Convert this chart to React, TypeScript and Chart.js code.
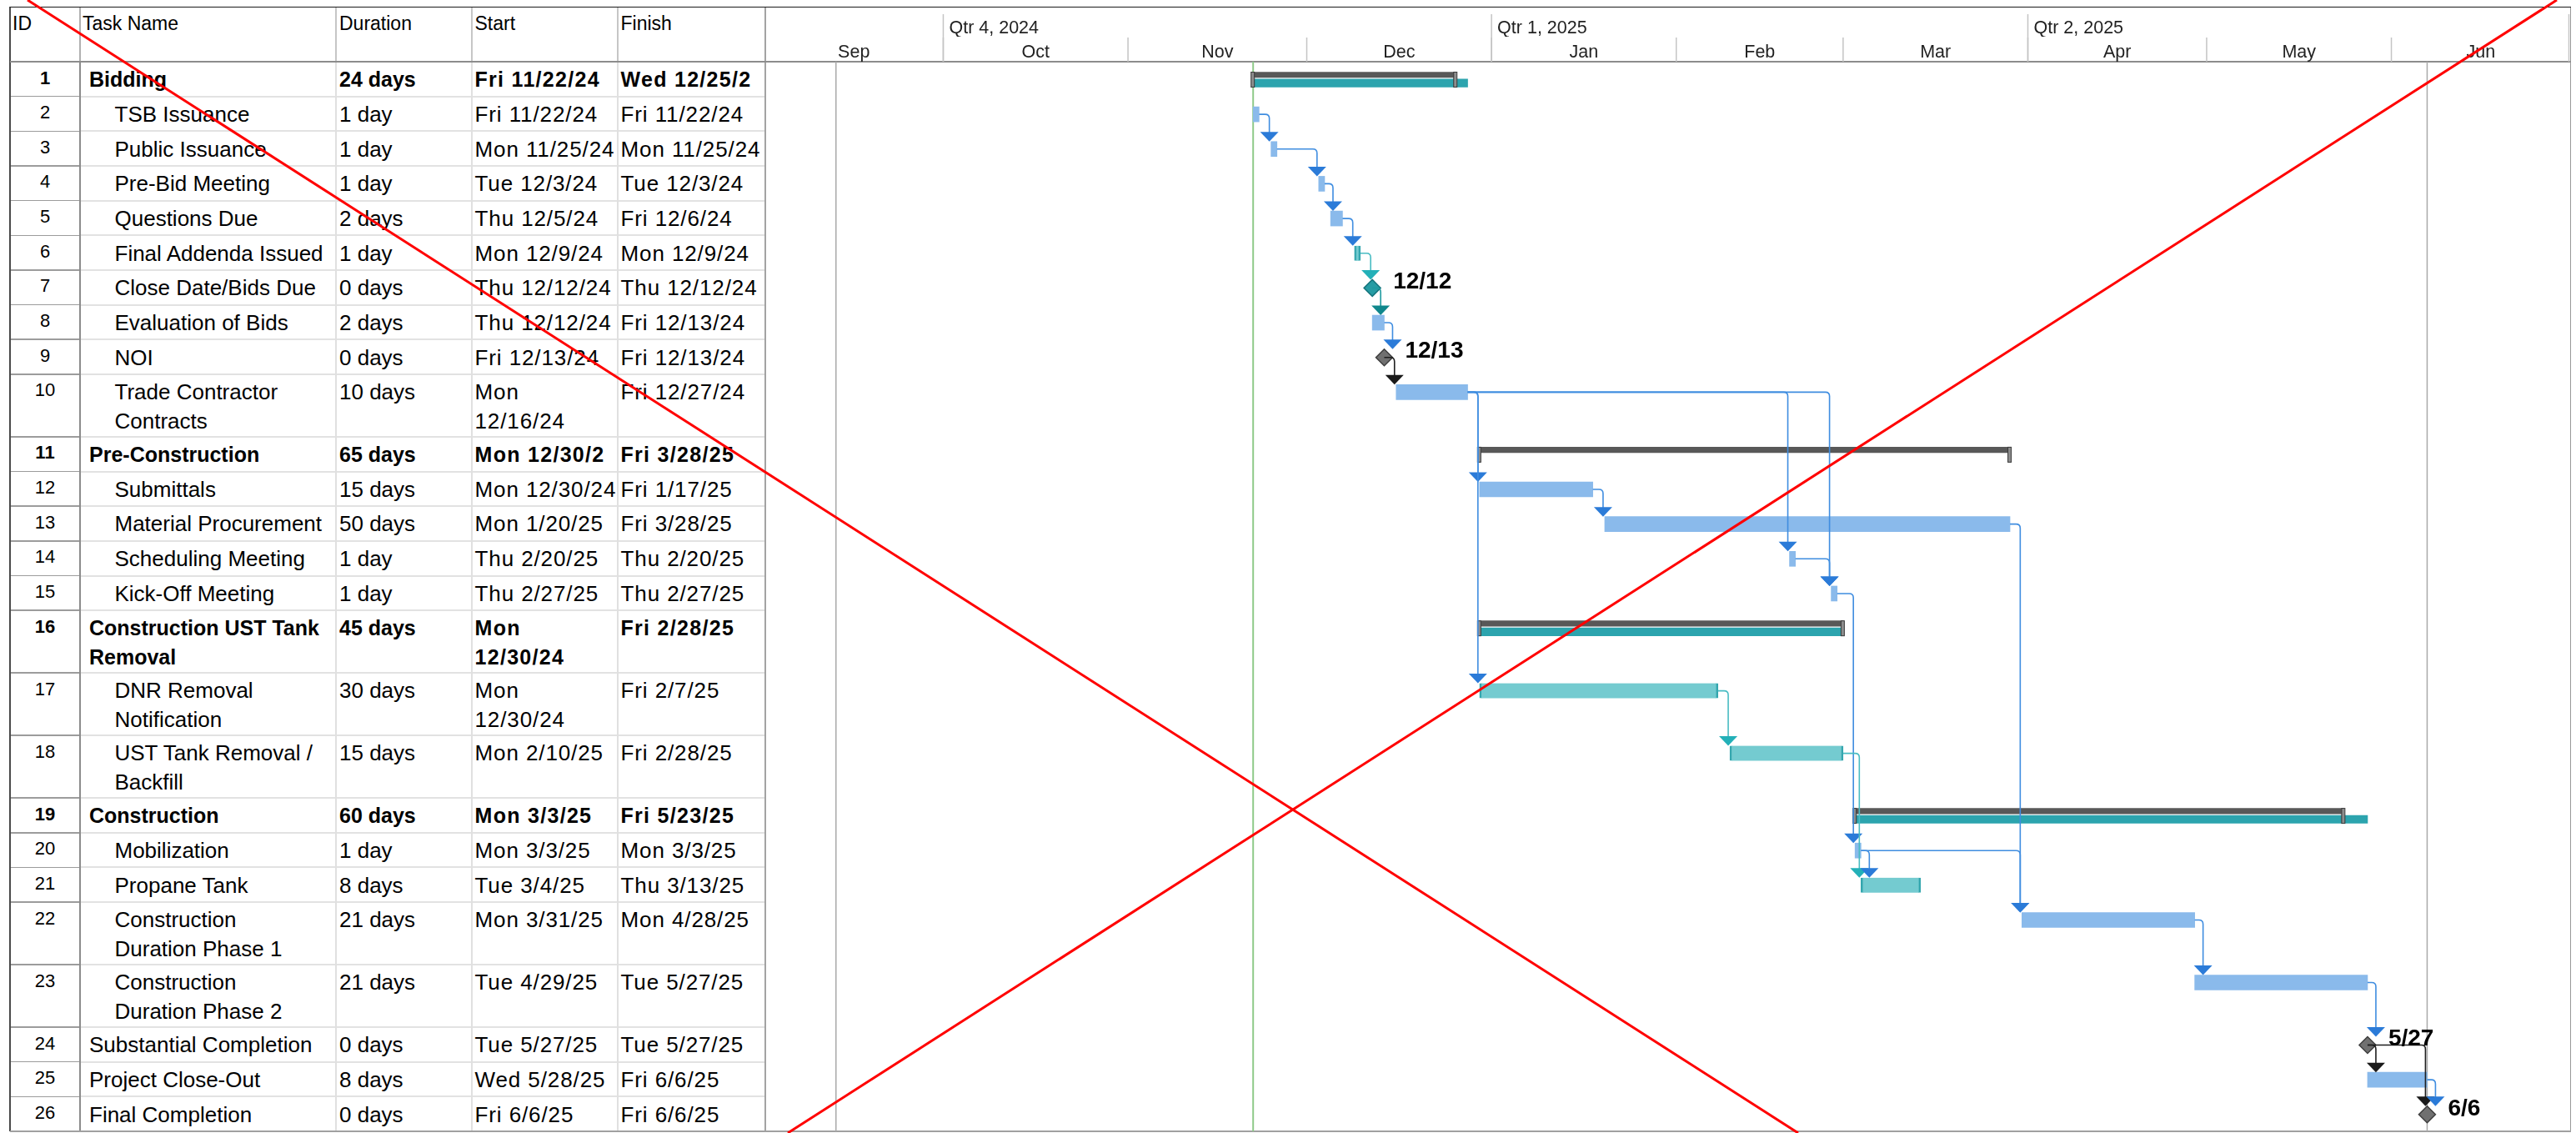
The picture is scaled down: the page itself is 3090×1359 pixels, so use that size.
import React, { useEffect, useRef } from 'react';
import { Chart, registerables } from 'chart.js';

Chart.register(...registerables);

// ---------------- data ----------------
const TASK_IDS = [1, 2, 3, 4, 5, 6, 7, 8, 9, 10, 11, 12, 13, 14, 15, 16, 17, 18, 19, 20, 21, 22, 23, 24, 25, 26];
const TASK_NAMES = [
  'Bidding', 'TSB Issuance', 'Public Issuance', 'Pre-Bid Meeting', 'Questions Due', 'Final Addenda Issued',
  'Close Date/Bids Due', 'Evaluation of Bids', 'NOI', 'Trade Contractor\nContracts', 'Pre-Construction',
  'Submittals', 'Material Procurement', 'Scheduling Meeting', 'Kick-Off Meeting', 'Construction UST Tank\nRemoval',
  'DNR Removal\nNotification', 'UST Tank Removal /\nBackfill', 'Construction', 'Mobilization', 'Propane Tank',
  'Construction\nDuration Phase 1', 'Construction\nDuration Phase 2', 'Substantial Completion', 'Project Close-Out',
  'Final Completion',
];
const OUTLINE_LEVEL = [1, 2, 2, 2, 2, 2, 2, 2, 2, 2, 1, 2, 2, 2, 2, 1, 2, 2, 1, 2, 2, 2, 2, 1, 1, 1];
const DURATIONS = [
  '24 days', '1 day', '1 day', '1 day', '2 days', '1 day', '0 days', '2 days', '0 days', '10 days', '65 days',
  '15 days', '50 days', '1 day', '1 day', '45 days', '30 days', '15 days', '60 days', '1 day', '8 days', '21 days',
  '21 days', '0 days', '8 days', '0 days',
];
const START_TEXT = [
  'Fri 11/22/24', 'Fri 11/22/24', 'Mon 11/25/24', 'Tue 12/3/24', 'Thu 12/5/24', 'Mon 12/9/24', 'Thu 12/12/24',
  'Thu 12/12/24', 'Fri 12/13/24', 'Mon\n12/16/24', 'Mon 12/30/2', 'Mon 12/30/24', 'Mon 1/20/25', 'Thu 2/20/25',
  'Thu 2/27/25', 'Mon\n12/30/24', 'Mon\n12/30/24', 'Mon 2/10/25', 'Mon 3/3/25', 'Mon 3/3/25', 'Tue 3/4/25',
  'Mon 3/31/25', 'Tue 4/29/25', 'Tue 5/27/25', 'Wed 5/28/25', 'Fri 6/6/25',
];
const FINISH_TEXT = [
  'Wed 12/25/2', 'Fri 11/22/24', 'Mon 11/25/24', 'Tue 12/3/24', 'Fri 12/6/24', 'Mon 12/9/24', 'Thu 12/12/24',
  'Fri 12/13/24', 'Fri 12/13/24', 'Fri 12/27/24', 'Fri 3/28/25', 'Fri 1/17/25', 'Fri 3/28/25', 'Thu 2/20/25',
  'Thu 2/27/25', 'Fri 2/28/25', 'Fri 2/7/25', 'Fri 2/28/25', 'Fri 5/23/25', 'Mon 3/3/25', 'Thu 3/13/25',
  'Mon 4/28/25', 'Tue 5/27/25', 'Tue 5/27/25', 'Fri 6/6/25', 'Fri 6/6/25',
];
// task kind: summary / task / critical / milestone
const TASK_TYPE = [
  'summary', 'task', 'task', 'task', 'task', 'critical', 'milestone', 'task', 'milestone', 'task', 'summary',
  'task', 'task', 'task', 'task', 'summary', 'critical', 'critical', 'summary', 'task', 'critical', 'task', 'task',
  'milestone', 'task', 'milestone',
];
// timeline values: days counted from Sep 1, 2024 (bar runs from start of first day to end of last day)
const START_DAY = [82, 82, 85, 93, 95, 99, 102, 102, 104, 106, 120, 120, 141, 172, 179, 120, 120, 162, 183, 183, 184, 211, 240, 269, 269, 279];
const END_DAY = [116, 83, 86, 94, 97, 100, 102, 104, 104, 118, 209, 139, 209, 173, 180, 181, 160, 181, 265, 184, 194, 240, 269, 269, 279, 279];
const ROLLUP_END: (number | null)[] = [118, null, null, null, null, null, null, null, null, null, null, null, null, null, null, 181, null, null, 269, null, null, null, null, null, null, null];
const MILESTONE_LABELS = ['12/12', '12/13', '5/27', '6/6'];
const LINKS: [number, number][] = [
  [2, 3], [3, 4], [4, 5], [5, 6], [6, 7], [7, 8], [8, 9], [9, 10], [10, 12], [10, 17], [10, 14], [10, 15],
  [14, 15], [12, 13], [13, 22], [15, 20], [17, 18], [18, 21], [20, 21], [20, 22], [22, 23], [23, 24], [24, 25],
  [24, 26], [25, 26],
];
const MONTHS = ['Sep', 'Oct', 'Nov', 'Dec', 'Jan', 'Feb', 'Mar', 'Apr', 'May', 'Jun'];
const MONTH_START = [0, 30, 61, 91, 122, 153, 181, 212, 242, 273, 303];
const QUARTERS = ['Qtr 4, 2024', 'Qtr 1, 2025', 'Qtr 2, 2025'];
const QUARTER_START = [30, 122, 212];
const STATUS_DAY = 82;
const GRAY_LINE_DAYS = [12, 279];
const HEADERS = ['ID', 'Task Name', 'Duration', 'Start', 'Finish'];

// ---------------- layout helpers ----------------
const FONT = '"Liberation Sans", Arial, sans-serif';
const lineCount = (s: string) => s.split('\n').length;
const ROW_UNITS = TASK_NAMES.map((n, i) =>
  Math.max(lineCount(n), lineCount(START_TEXT[i]), lineCount(FINISH_TEXT[i])) > 1 ? 1.8 : 1
);
const ROW_TOP: number[] = [];
let accUnits = 0;
ROW_UNITS.forEach((u) => { ROW_TOP.push(accUnits); accUnits += u; });
const TOTAL_UNITS = accUnits;

const BODY_TOP = 74;
const BODY_BOTTOM = 1357;
const UNIT_PX = (BODY_BOTTOM - BODY_TOP) / TOTAL_UNITS;
const CANVAS_LEFT = 917;
const CANVAS_TOP = 9;
const CANVAS_W = 2166;
const CANVAS_H = BODY_BOTTOM - CANVAS_TOP;
const X_MAX = MONTH_START[MONTH_START.length - 1];

const BAR_OFF = 0.515;
const SUM_OFF = 15.75 / 41.66;
const ROLL_OFF = 25.65 / 41.66;

const idx = (id: number) => TASK_IDS.indexOf(id);
const isMilestone = (i: number) => TASK_TYPE[i] === 'milestone';

const linkStyle = (p: number) => {
  if (TASK_TYPE[p] === 'critical') return { line: '#49bcc3', head: '#23b0b8' };
  if (isMilestone(p) && p === idx(7)) return { line: '#1f9aa0', head: '#0f878c' };
  if (isMilestone(p)) return { line: '#1e1e1e', head: '#1a1a1a' };
  return { line: '#3f8de0', head: '#2b7bd8' };
};

const ganttPlugin = {
  id: 'ganttExtras',
  beforeDatasetsDraw(chart: any) {
    const { ctx, chartArea: a } = chart;
    const x = chart.scales.x;
    ctx.save();
    ctx.strokeStyle = '#a9a9a9';
    ctx.lineWidth = 1.5;
    GRAY_LINE_DAYS.forEach((d) => {
      const px = x.getPixelForValue(d);
      ctx.beginPath(); ctx.moveTo(px, a.top); ctx.lineTo(px, a.bottom); ctx.stroke();
    });
    ctx.strokeStyle = '#8fca8a';
    ctx.lineWidth = 2;
    const g = x.getPixelForValue(STATUS_DAY);
    ctx.beginPath(); ctx.moveTo(g, a.top); ctx.lineTo(g, a.bottom); ctx.stroke();
    ctx.restore();
  },
  afterDatasetsDraw(chart: any) {
    const { ctx } = chart;
    const x = chart.scales.x;
    const y = chart.scales.y;
    ctx.save();
    // summary end caps
    TASK_TYPE.forEach((t, i) => {
      if (t !== 'summary') return;
      const top = y.getPixelForValue(ROW_TOP[i]) + 12.5;
      [START_DAY[i], END_DAY[i]].forEach((d) => {
        const px = x.getPixelForValue(d);
        ctx.fillStyle = '#8d8d8d';
        ctx.fillRect(px - 2.5, top, 4, 18);
        ctx.strokeStyle = '#3a3a3a';
        ctx.lineWidth = 1;
        ctx.strokeRect(px - 2.5, top, 4, 18);
      });
    });
    // links
    const r = 5;
    LINKS.forEach(([pid, sid]) => {
      const p = idx(pid);
      const s = idx(sid);
      const st = linkStyle(p);
      const pe = x.getPixelForValue(isMilestone(p) ? START_DAY[p] : END_DAY[p]);
      const yp = y.getPixelForValue(ROW_TOP[p] + BAR_OFF);
      const ss = x.getPixelForValue(START_DAY[s]);
      const ax = Math.max(ss - 2, pe + 10);
      const yc = y.getPixelForValue(ROW_TOP[s] + BAR_OFF);
      const tip = isMilestone(s) ? yc - 10 : yc - 9;
      const headTop = tip - 11.5;
      ctx.strokeStyle = st.line;
      ctx.lineWidth = 1.6;
      ctx.beginPath();
      ctx.moveTo(pe, yp);
      ctx.lineTo(ax - r, yp);
      ctx.quadraticCurveTo(ax, yp, ax, yp + r);
      ctx.lineTo(ax, headTop + 1);
      ctx.stroke();
      ctx.fillStyle = st.head;
      ctx.beginPath();
      ctx.moveTo(ax - 11, headTop);
      ctx.lineTo(ax + 11, headTop);
      ctx.lineTo(ax, tip);
      ctx.closePath();
      ctx.fill();
    });
    // milestone date labels
    ctx.fillStyle = '#000';
    ctx.font = `bold 28px ${FONT}`;
    ctx.textBaseline = 'middle';
    ctx.textAlign = 'left';
    let k = 0;
    TASK_TYPE.forEach((t, i) => {
      if (t !== 'milestone') return;
      const px = x.getPixelForValue(START_DAY[i]);
      const py = y.getPixelForValue(ROW_TOP[i] + BAR_OFF);
      ctx.fillText(MILESTONE_LABELS[k], px + 25, py - 7);
      k += 1;
    });
    ctx.restore();
  },
  afterDraw(chart: any) {
    const { ctx } = chart;
    const x = chart.scales.x;
    const xq = chart.scales.xq;
    ctx.save();
    ctx.strokeStyle = '#c4c4c4';
    ctx.lineWidth = 1.5;
    MONTH_START.slice(1, -1).forEach((d) => {
      const px = x.getPixelForValue(d);
      ctx.beginPath(); ctx.moveTo(px, x.top + 1); ctx.lineTo(px, x.bottom); ctx.stroke();
    });
    [...QUARTER_START, X_MAX].forEach((d) => {
      const px = Math.min(x.getPixelForValue(d), x.right - 1.5);
      ctx.beginPath(); ctx.moveTo(px, xq.top + 8); ctx.lineTo(px, x.bottom); ctx.stroke();
    });
    ctx.restore();
  },
};

function buildConfig(): any {
  const rowY = (i: number, off: number) => ROW_TOP[i] + off;
  const barsOf = (type: string) =>
    TASK_TYPE.map((t, i) => (t === type ? { x: [START_DAY[i], END_DAY[i]], y: rowY(i, BAR_OFF) } : null)).filter(Boolean);
  const summaries = TASK_TYPE.map((t, i) => (t === 'summary' ? { x: [START_DAY[i], END_DAY[i]], y: rowY(i, SUM_OFF) } : null)).filter(Boolean);
  const rollups = ROLLUP_END.map((e, i) => (e !== null ? { x: [START_DAY[i], e], y: rowY(i, ROLL_OFF) } : null)).filter(Boolean);
  const milestoneIdx = TASK_TYPE.map((t, i) => (t === 'milestone' ? i : -1)).filter((i) => i >= 0);
  const milestones = milestoneIdx.map((i) => ({ x: START_DAY[i], y: rowY(i, BAR_OFF) }));

  const common = { indexAxis: 'y', stack: 'gantt', borderSkipped: false, xAxisID: 'x', yAxisID: 'y' };
  return {
    type: 'bar',
    data: {
      datasets: [
        { ...common, label: 'Rollup', data: rollups, backgroundColor: 'rgb(44,164,174)', barThickness: 9.5 },
        { ...common, label: 'Summary', data: summaries, backgroundColor: 'rgb(88,88,88)', barThickness: 6.5 },
        { ...common, label: 'Task', data: barsOf('task'), backgroundColor: 'rgb(138,186,235)', barThickness: 18 },
        {
          ...common, label: 'Critical', data: barsOf('critical'), backgroundColor: 'rgb(116,203,208)', barThickness: 18,
          borderColor: 'rgb(52,166,174)', borderWidth: { left: 2.5, right: 2.5, top: 0, bottom: 0 },
        },
        {
          type: 'scatter', label: 'Milestone', data: milestones, showLine: false, xAxisID: 'x', yAxisID: 'y',
          pointStyle: 'rectRot', pointRadius: 10,
          pointBackgroundColor: milestoneIdx.map((i) => (i === idx(7) ? 'rgb(38,156,164)' : 'rgb(112,112,112)')),
          pointBorderColor: milestoneIdx.map((i) => (i === idx(7) ? 'rgb(22,118,126)' : 'rgb(62,62,62)')),
          pointBorderWidth: 1.5,
        },
      ],
    },
    options: {
      animation: false,
      responsive: false,
      devicePixelRatio: 1,
      events: [],
      layout: { padding: 0, autoPadding: false },
      plugins: { legend: { display: false }, tooltip: { enabled: false } },
      scales: {
        x: {
          type: 'linear', position: 'top', min: 0, max: X_MAX, stacked: false, weight: 0, offset: false,
          grid: { display: false, drawTicks: false, offset: false }, border: { display: false },
          afterBuildTicks: (s: any) => {
            s.ticks = MONTHS.map((_, i) => ({ value: (MONTH_START[i] + MONTH_START[i + 1]) / 2 }));
          },
          afterFit: (s: any) => { s.height = 30; },
          ticks: {
            autoSkip: false, maxRotation: 0, minRotation: 0, padding: 0, color: '#222',
            font: { family: FONT, size: 21.5, lineHeight: 1 },
            callback: (_v: any, i: number) => MONTHS[i],
          },
        },
        xq: {
          type: 'linear', position: 'top', min: 0, max: X_MAX, weight: 1, offset: false,
          grid: { display: false, drawTicks: false, offset: false }, border: { display: false },
          afterBuildTicks: (s: any) => { s.ticks = QUARTER_START.map((v) => ({ value: v })); },
          afterFit: (s: any) => { s.height = BODY_TOP - CANVAS_TOP - 30; },
          ticks: {
            autoSkip: false, maxRotation: 0, minRotation: 0, padding: -1, align: 'start', labelOffset: 7,
            color: '#222', font: { family: FONT, size: 21.5, lineHeight: 1 },
            callback: (_v: any, i: number) => QUARTERS[i],
          },
        },
        y: {
          type: 'linear', min: 0, max: TOTAL_UNITS, reverse: true, display: false, offset: false,
          grid: { offset: false },
        },
      },
    },
    plugins: [ganttPlugin],
  };
}

// ---------------- HTML table ----------------
const COL_X = [12, 96, 403, 566, 741, 917];
const TEXT_X = { id: 54, name1: 107, name2: 137.5, dur: 407, start: 569.5, finish: 744.5 };

function HLine({ x1, x2, y, h, c }: any) {
  return <div style={{ position: 'absolute', left: x1, top: y - h / 2, width: x2 - x1, height: h, background: c }} />;
}
function VLine({ x, y1, y2, w, c }: any) {
  return <div style={{ position: 'absolute', left: x - w / 2, top: y1, width: w, height: y2 - y1, background: c }} />;
}
function Txt({ x, cy, size, bold, text, center, spacing }: any) {
  return (
    <div
      style={{
        position: 'absolute', left: center ? x - 50 : x, width: center ? 100 : undefined, top: cy - size / 2,
        fontSize: size, lineHeight: `${size}px`, height: size, whiteSpace: 'nowrap', fontWeight: bold ? 700 : 400,
        textAlign: center ? 'center' : 'left', letterSpacing: spacing || 0,
      }}
    >
      {text}
    </div>
  );
}

export default function App() {
  const ref = useRef<HTMLCanvasElement>(null);
  useEffect(() => {
    document.body.style.margin = '0';
    const chart = new Chart(ref.current as HTMLCanvasElement, buildConfig());
    return () => chart.destroy();
  }, []);

  const rowTopPx = (i: number) => BODY_TOP + ROW_TOP[i] * UNIT_PX;
  const rowBottomPx = (i: number) => BODY_TOP + (ROW_TOP[i] + ROW_UNITS[i]) * UNIT_PX;

  const cells: any[] = [];
  TASK_IDS.forEach((id, i) => {
    const top = rowTopPx(i);
    const bold = TASK_TYPE[i] === 'summary';
    const fs = bold ? 25 : 26;
    cells.push(<Txt key={`id${i}`} x={TEXT_X.id} cy={top + 19.5} size={22} bold={bold} text={String(id)} center />);
    const cols: [string, number, number][] = [
      [TASK_NAMES[i], OUTLINE_LEVEL[i] > 1 ? TEXT_X.name2 : TEXT_X.name1, 0],
      [DURATIONS[i], TEXT_X.dur, 0],
      [START_TEXT[i], TEXT_X.start, bold ? 1.3 : 0.9],
      [FINISH_TEXT[i], TEXT_X.finish, bold ? 1.3 : 0.9],
    ];
    cols.forEach(([txt, x, sp], c) => {
      txt.split('\n').forEach((line, k) => {
        cells.push(<Txt key={`c${i}-${c}-${k}`} x={x} cy={top + 21.3 + 35 * k} size={fs} bold={bold} text={line} spacing={sp} />);
      });
    });
  });

  const lines: any[] = [];
  TASK_IDS.forEach((_, i) => {
    if (i === TASK_IDS.length - 1) return;
    const y = rowBottomPx(i);
    lines.push(<HLine key={`ra${i}`} x1={COL_X[0]} x2={COL_X[1]} y={y} h={1.5} c="#9c9c9c" />);
    lines.push(<HLine key={`rb${i}`} x1={COL_X[1]} x2={COL_X[5]} y={y} h={2} c="#e2e2e2" />);
  });
  [2, 3, 4].forEach((c) => {
    lines.push(<VLine key={`hc${c}`} x={COL_X[c]} y1={8} y2={BODY_TOP} w={1.5} c="#c6c6c6" />);
    lines.push(<VLine key={`bc${c}`} x={COL_X[c]} y1={BODY_TOP} y2={BODY_BOTTOM} w={1.5} c="#e0e0e0" />);
  });
  lines.push(<VLine key="idc-h" x={COL_X[1]} y1={8} y2={BODY_TOP} w={1.5} c="#b0b0b0" />);
  lines.push(<VLine key="idc-b" x={COL_X[1]} y1={BODY_TOP} y2={BODY_BOTTOM} w={1.5} c="#8c8c8c" />);

  return (
    <div
      style={{
        position: 'absolute', left: 0, top: 0, width: 3090, height: 1359, overflow: 'hidden', background: '#fff',
        fontFamily: FONT, color: '#000',
      }}
    >
      {lines}
      <VLine x={12} y1={8} y2={BODY_BOTTOM} w={1.5} c="#4a4a4a" />
      <VLine x={917.5} y1={8} y2={BODY_BOTTOM} w={2} c="#a3a3a3" />
      <VLine x={3083.5} y1={8} y2={BODY_BOTTOM} w={1.5} c="#9a9a9a" />
      <HLine x1={12} x2={3084} y={8.3} h={1.5} c="#1a1a1a" />
      <HLine x1={12} x2={3084} y={BODY_TOP} h={2} c="#8c8c8c" />
      <HLine x1={12} x2={3084} y={BODY_BOTTOM - 0.5} h={2} c="#a0a0a0" />
      {HEADERS.map((h, i) => (
        <Txt key={`h${i}`} x={[15, 99, 407, 569.5, 744.5][i]} cy={28.5} size={23} text={h} />
      ))}
      {cells}
      <canvas
        ref={ref}
        width={CANVAS_W}
        height={CANVAS_H}
        style={{ position: 'absolute', left: CANVAS_LEFT, top: CANVAS_TOP, width: CANVAS_W, height: CANVAS_H }}
      />
      <svg width={3090} height={1359} style={{ position: 'absolute', left: 0, top: 0, pointerEvents: 'none' }}>
        <line x1={33} y1={0} x2={2157} y2={1359} stroke="#ff0000" strokeWidth={3} />
        <line x1={3067} y1={0} x2={945} y2={1359} stroke="#ff0000" strokeWidth={3} />
      </svg>
    </div>
  );
}
